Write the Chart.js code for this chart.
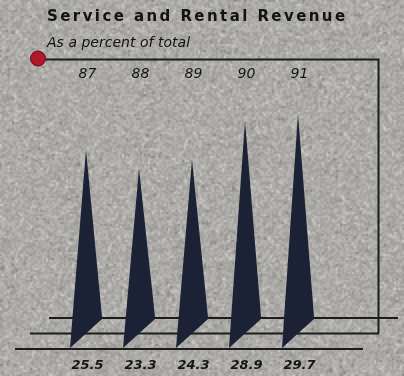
<!DOCTYPE html>
<html>
<head>
<meta charset="utf-8">
<script src="https://cdn.jsdelivr.net/npm/chart.js@4/dist/chart.umd.min.js"></script>
<style>
  html, body { margin: 0; padding: 0; background: #a9a8a5; }
  #wrap { width: 404px; height: 376px; }
</style>
</head>
<body>
<div id="wrap"><canvas id="revChart" width="404" height="376"></canvas></div>
<script>
// Fiscal years and service/rental share of revenue (%)
const years = ['87', '88', '89', '90', '91'];
const shares = [25.5, 23.3, 24.3, 28.9, 29.7];
const valueLabels = ['25.5', '23.3', '24.3', '28.9', '29.7'];

const titleText = 'Service and Rental Revenue';
const subtitleText = 'As a percent of total';

const INK = '#1c1c1e';
const SPIKE = '#1b2235';
const DOT = '#b3172b';

// speckled paper background, built once (coarse grain, scaled up)
function makePaper(w, h) {
    const sw = Math.ceil(w / 2), sh = Math.ceil(h / 2);
    const s = document.createElement('canvas');
    s.width = sw; s.height = sh;
    const sg = s.getContext('2d');
    const img = sg.createImageData(sw, sh);
    let seed = 1234567;
    const rnd = () => { seed = (seed * 1103515245 + 12345) & 0x7fffffff; return seed / 0x7fffffff; };
    for (let i = 0; i < sw * sh; i++) {
        let v = 170 + (rnd() - 0.5) * 38;
        if (rnd() < 0.08) v += 24;
        if (rnd() < 0.03) v -= 28;
        img.data[i * 4] = v + 1;
        img.data[i * 4 + 1] = v;
        img.data[i * 4 + 2] = v - 3;
        img.data[i * 4 + 3] = 255;
    }
    sg.putImageData(img, 0, 0);
    const c = document.createElement('canvas');
    c.width = w; c.height = h;
    const g = c.getContext('2d');
    g.imageSmoothingEnabled = true;
    g.drawImage(s, 0, 0, w, h);
    return c;
}
const paper = makePaper(404, 376);

// draws text stretched to a given width with letter spacing
function spacedText(ctx, text, x, y, width) {
    ctx.letterSpacing = '0px';
    const w = ctx.measureText(text).width;
    const gap = (width - w) / (text.length - 1);
    ctx.letterSpacing = gap.toFixed(2) + 'px';
    ctx.fillText(text, x, y);
    ctx.letterSpacing = '0px';
}

const baseLines = [
    {y: 318, x0: 49, x1: 398},
    {y: 333.5, x0: 30, x1: 379},
    {y: 349, x0: 15, x1: 363}
];

const spikePlugin = {
    id: 'spikes',
    beforeDraw(chart) {
        const ctx = chart.ctx;
        ctx.save();
        ctx.drawImage(paper, 0, 0);

        ctx.fillStyle = '#121212';
        ctx.textBaseline = 'alphabetic';
        ctx.font = 'bold 15px "DejaVu Sans"';
        spacedText(ctx, titleText, 47, 21, 298);
        ctx.font = 'italic 14px "DejaVu Sans"';
        spacedText(ctx, subtitleText, 47, 47, 143);

        // frame: top rule from the dot, down the right side
        ctx.strokeStyle = INK;
        ctx.lineWidth = 2;
        ctx.beginPath();
        ctx.moveTo(38, 59.5);
        ctx.lineTo(378.5, 59.5);
        ctx.lineTo(378.5, baseLines[1].y);
        ctx.stroke();

        baseLines.forEach(l => {
            ctx.beginPath();
            ctx.moveTo(l.x0, l.y);
            ctx.lineTo(l.x1, l.y);
            ctx.stroke();
        });

        ctx.fillStyle = DOT;
        ctx.strokeStyle = '#5a1018';
        ctx.lineWidth = 1;
        ctx.beginPath();
        ctx.arc(38, 58.5, 7.5, 0, Math.PI * 2);
        ctx.fill();
        ctx.stroke();
        ctx.restore();
    },
    afterDatasetsDraw(chart) {
        const ctx = chart.ctx;
        const meta = chart.getDatasetMeta(0);
        ctx.save();
        ctx.fillStyle = SPIKE;
        meta.data.forEach(bar => {
            ctx.beginPath();
            ctx.moveTo(bar.x - 1, bar.y);
            ctx.lineTo(bar.x + 15, baseLines[0].y - 1);
            ctx.lineTo(bar.x + 15, baseLines[0].y + 1);
            ctx.lineTo(bar.x - 17, baseLines[2].y - 1);
            ctx.closePath();
            ctx.fill();
        });

        const xs = chart.scales.x;
        ctx.fillStyle = '#151515';
        ctx.textAlign = 'center';
        ctx.textBaseline = 'middle';
        ctx.font = 'italic 14px "DejaVu Sans"';
        years.forEach((yr, i) => {
            ctx.fillText(yr, xs.getPixelForValue(i) + 0.5, 74);
        });
        ctx.font = 'italic bold 13px "DejaVu Sans"';
        valueLabels.forEach((t, i) => {
            ctx.fillText(t, xs.getPixelForValue(i) + 0.5, 366);
        });
        ctx.restore();
    }
};

new Chart(document.getElementById('revChart'), {
    type: 'bar',
    data: {
        labels: years,
        datasets: [{
            data: shares,
            backgroundColor: 'rgba(0,0,0,0)',
            borderWidth: 0
        }]
    },
    options: {
        responsive: false,
        animation: false,
        layout: {padding: {top: 60, bottom: 8, left: 60.5, right: 78.5}},
        plugins: {
            legend: {display: false},
            tooltip: {enabled: false}
        },
        scales: {
            x: {display: false, offset: true},
            y: {display: false, min: 0, max: 36}
        }
    },
    plugins: [spikePlugin]
});
</script>
</body>
</html>
